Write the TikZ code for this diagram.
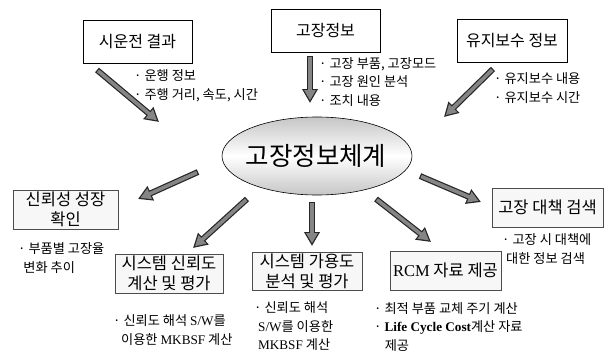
\documentclass[tikz,border=0pt]{standalone}
\usepackage{fontspec}
\setmainfont{Noto Sans CJK KR}
\newfontfamily\lat{Liberation Serif}
\usetikzlibrary{arrows.meta}
\begin{document}
\begin{tikzpicture}[x=1pt,y=-1pt,
  boxtext/.style={font=\fontsize{16}{20}\selectfont, align=center, inner sep=0pt},
  topbox/.style={boxtext, draw=black, line width=0.6pt, fill=white},
  botbox/.style={boxtext, font=\fontsize{16.5}{20}\selectfont, draw=black!70, line width=0.9pt, fill=gray!6},
  note/.style={anchor=west, align=left, inner sep=0pt, font=\fontsize{13.2}{18.5}\selectfont},
  arrout/.style={line width=6pt, draw=black!85, -{Triangle[length=14pt,width=15pt]}},
  arrin/.style={line width=3.6pt, draw=black!48, shorten <=1.2pt, shorten >=2.6pt, -{Triangle[length=10.2pt,width=11pt]}}
]
\useasboundingbox (0,0) rectangle (610,353);

% top boxes
\node[topbox, minimum width=109pt, minimum height=43pt] (t1) at (137.5,41.5) {시운전 결과};
\node[topbox, minimum width=109pt, minimum height=43pt] (t2) at (325.5,30.5) {고장정보};
\node[topbox, minimum width=110pt, minimum height=43pt] (t3) at (512,40.5) {유지보수 정보};

% central ellipse
\path[draw=black, line width=0.6pt, top color=gray!45, bottom color=gray!45, middle color=white]
  (317,156) ellipse [x radius=95, y radius=39];
\node[inner sep=0pt, font=\fontsize{25.5}{28}\selectfont] (c) at (316,156) {고장정보체계};

% bottom boxes
\node[botbox, minimum width=105pt, minimum height=39pt] (b1) at (65.5,209.5) {신뢰성 성장\\확인};
\node[botbox, minimum width=108pt, minimum height=39pt] (b2) at (169,273.5) {시스템 신뢰도\\계산 및 평가};
\node[botbox, minimum width=110pt, minimum height=38pt] (b3) at (307,271.5) {시스템 가용도\\분석 및 평가};
\node[botbox, minimum width=111pt, minimum height=39pt] (b4) at (445.5,270.5) {{\lat RCM} 자료 제공};
\node[botbox, minimum width=111pt, minimum height=39pt] (b5) at (547.5,207.5) {고장 대책 검색};

% notes
\node[note] (n1) at (134,86) {· 운행 정보\\· 주행 거리, 속도, 시간};
\node[note] (n2) at (319,82) {· 고장 부품, 고장모드\\· 고장 원인 분석\\· 조치 내용};
\node[note] (n3) at (494,88) {· 유지보수 내용\\· 유지보수 시간};
\node[note] (n4) at (18,258) {· 부품별 고장율\\\hspace{0.4em}변화 추이};
\node[note] (n5) at (113,330) {· 신뢰도 해석 {\lat S/W}를\\\hspace{0.6em}이용한 {\lat MKBSF} 계산};
\node[note] (n6) at (254,326.5) {· 신뢰도 해석\\\hspace{0.3em}{\lat S/W}를 이용한\\\hspace{0.3em}{\lat MKBSF} 계산};
\node[note] (n7) at (374,327) {· 최적 부품 교체 주기 계산\\· {\lat\bfseries Life Cycle Cost}계산 자료\\\hspace{0.8em}제공};
\node[note] (n8) at (502,249) {· 고장 시 대책에\\\hspace{0.3em}대한 정보 검색};

% arrow end points
\coordinate (a1s) at (97,70);   \coordinate (a1e) at (159,122);
\coordinate (a2s) at (310,56);  \coordinate (a2e) at (310,103);
\coordinate (a3s) at (493,69);  \coordinate (a3e) at (444,117);
\coordinate (a4s) at (198,172); \coordinate (a4e) at (138,199);
\coordinate (a5s) at (247,199); \coordinate (a5e) at (193,248);
\coordinate (a6s) at (312,202); \coordinate (a6e) at (312,246);
\coordinate (a7s) at (376,199); \coordinate (a7e) at (431,242);
\coordinate (a8s) at (420,176); \coordinate (a8e) at (481,202);

\foreach \i in {1,...,8}{
  \draw[arrout] (a\i s) -- (a\i e);
  \draw[arrin] (a\i s) -- (a\i e);
}
\end{tikzpicture}
\end{document}
